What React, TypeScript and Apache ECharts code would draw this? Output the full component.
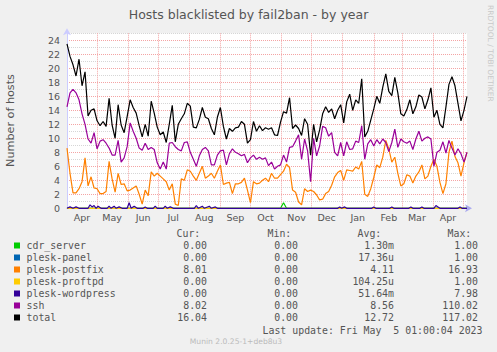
import React, { useEffect, useRef } from 'react';
import * as echarts from 'echarts';

// ---- data ----
const START_YEAR = 2022;
const START_MONTH = 3; // April (0-based)
const DAY_COUNT = 400;
const STEP_DAYS = 3;
const MONTH_LABELS = ['Jan', 'Feb', 'Mar', 'Apr', 'May', 'Jun', 'Jul', 'Aug', 'Sep', 'Oct', 'Nov', 'Dec'];

// one value every STEP_DAYS days, starting 2022-04-01
const TOTAL = [
  23.5, 21.7, 20.5, 18.9, 21.3, 17.5, 19.5, 13.2, 14, 14.2,
  12.5, 11.8, 12.4, 11.7, 15.7, 11.9, 10, 14.8, 11.9, 10.8,
  13.1, 15.5, 14.4, 13.6, 11.8, 10.2, 12, 10.3, 15.3, 13.6,
  11.6, 10.5, 10.9, 9.4, 12, 14.7, 9.5, 12, 12.8, 13.5,
  15, 14.6, 11.6, 11.5, 12.7, 14.4, 13, 12.8, 11.4, 10.5,
  13, 14.4, 11.7, 9.9, 11.4, 11, 11.5, 11.6, 12.4, 12,
  9.3, 9.8, 12.4, 11, 11.8, 11.1, 11.5, 11.3, 11.5, 10.5,
  10.4, 12.3, 13.8, 13.6, 15.8, 11.4, 11.9, 11.4, 10.4, 12.8,
  12, 7.6, 12, 9.5, 11.2, 13.5, 14.5, 13.7, 14.2, 12.8,
  14, 14.8, 12.2, 15.2, 16.3, 14, 15.5, 15, 18.5, 10.2,
  11, 12.6, 14.2, 16, 15, 17.3, 19.2, 16.7, 16.1, 18.7,
  16.5, 13.5, 13.2, 14.1, 15.5, 13.5, 14.5, 16.2, 15.9, 14.2,
  15.5, 17.2, 13, 14, 12, 11.5, 14.5, 17.7, 18.8, 17.5,
  15, 12.5, 14, 16,
];

const SSH = [
  14.5, 16.5, 17, 16.5, 15.5, 13.5, 12, 9.9, 9.3, 10.8,
  8.5, 9.6, 9.8, 9.3, 8.6, 7.6, 7.6, 9.7, 6.6, 7.2,
  8.8, 12.2, 11, 10, 8.6, 8.3, 9.3, 8.4, 8.7, 8.4,
  6.5, 5.6, 6.6, 5.6, 9.3, 9.4, 8.8, 8.4, 8.2, 9.4,
  9.5, 8, 7, 6, 7.5, 8.4, 8.7, 8.2, 6.2, 6.2,
  7.6, 8.2, 8.3, 6.2, 7.8, 8.5, 8, 7.8, 7.5, 7.7,
  6.5, 7.2, 7.6, 7, 7.3, 7, 7.2, 6.1, 6.6, 5.6,
  6, 6.2, 7.6, 6.6, 8.7, 8.8, 9.6, 10.5, 7, 9.9,
  8.2, 3.8, 10, 7.5, 8.9, 11.7, 11.5, 10.3, 10.8, 8,
  7.5, 9.4, 7.5, 9.5, 8.4, 8.5, 9.6, 9.4, 11.8, 7,
  9.2, 9.8, 8.9, 9.8, 9.2, 9.9, 9.4, 8.1, 9.4, 11.3,
  8.7, 9.9, 9.5, 9.3, 9.6, 8.4, 9.9, 11, 9.6, 10,
  10.2, 9.9, 6, 8, 8.3, 9.5, 7.9, 9.7, 8.6, 7.6,
  8.5, 7.8, 6.6, 8,
];

const POSTFIX = [
  8.6, 5, 2.2, 2.2, 2.8, 3.8, 7.2, 3.2, 4.5, 2.9,
  2.8, 2.1, 2.1, 2.4, 6.7, 4.2, 2.3, 5, 3.4, 3.5,
  2.5, 2.6, 2.9, 3.2, 2, 0.6, 2.6, 1.8, 5.2, 4.6,
  5, 4.6, 4.2, 3.8, 2.6, 3.5, 0.6, 0.4, 4.2, 4,
  5.5, 5.3, 4.6, 4, 5, 6, 4.3, 4.6, 5, 4.3,
  5.3, 6.2, 3.4, 3.6, 3.7, 2.1, 3.5, 3.5, 3.7, 4.3,
  2.6, 0.8, 3.8, 3.5, 3.6, 4, 4.3, 3.8, 5, 4.3,
  4.3, 4.8, 5.3, 6.3, 5.8, 2.6, 2.3, 0.9, 0.5, 2.8,
  2.4, 2.6, 2.4, 1.9, 1.2, 1.3, 2.1, 2.4, 3.3, 4.5,
  5.1, 5.4, 4, 5.5, 5.4, 5.3, 5.9, 5.6, 6.7, 2,
  1.7, 2.8, 4.4, 6.2, 5.8, 7.3, 9.7, 8.5, 6.6, 7.3,
  5, 3.2, 3.5, 4.8, 4.6, 3.6, 4.6, 5.2, 6.2, 4.2,
  4.6, 6, 7, 6, 3.7, 2.1, 3.5, 8, 9.6, 7.4,
  6.5, 4.6, 6.5, 8,
];

// [day offset, value]
const WORDPRESS_POINTS = [
  [0, 0], [3, 0.2], [6, 0], [9, 0.2], [12, 0], [21, 0], [23, 0.5], [25, 0.2], [27, 0.4], [29, 0],
  [31, 0.3], [34, 0], [40, 0], [42, 0.3], [44, 0], [47, 0.3], [49, 0], [52, 0.2], [55, 0], [60, 0],
  [62, 0.8], [64, 0], [67, 0.3], [70, 0], [76, 0], [78, 0.2], [80, 0], [86, 0], [88, 0.3], [90, 0],
  [96, 0], [98, 0.3], [100, 0], [103, 0.2], [106, 0], [112, 0], [127, 0], [129, 0.4], [131, 0],
  [135, 0.3], [137, 0], [142, 0.3], [144, 0], [148, 0.2], [150, 0], [155, 0], [270, 0], [272, 0.2],
  [274, 0], [277, 0.2], [279, 0], [304, 0], [306, 0.2], [308, 0], [322, 0], [324, 0.2], [326, 0],
  [341, 0], [343, 0.2], [345, 0], [352, 0], [354, 0.2], [356, 0], [366, 0], [368, 0.4], [370, 0.2],
  [372, 0], [390, 0], [392, 0.2], [394, 0], [399, 0],
];
const CDR_POINTS = [[0, 0], [213, 0], [216, 0.8], [219, 0], [399, 0]];
const PANEL_POINTS = [[0, 0], [399, 0]];
const PROFTPD_POINTS = [[0, 0], [399, 0]];

const NAMES = ['cdr_server', 'plesk-panel', 'plesk-postfix', 'plesk-proftpd', 'plesk-wordpress', 'ssh', 'total'];
const COLORS = ['#00cc00', '#0066b3', '#ff8000', '#ffcc00', '#330099', '#990099', '#000000'];
const CUR = ['0.00', '0.00', '8.01', '0.00', '0.00', '8.02', '16.04'];
const MIN = ['0.00', '0.00', '0.00', '0.00', '0.00', '0.00', '0.00'];
const AVG = ['1.30m', '17.36u', '4.11', '104.25u', '51.64m', '8.56', '12.72'];
const MAX = ['1.00', '1.00', '16.93', '1.00', '7.98', '110.02', '117.02'];

const TITLE = 'Hosts blacklisted by fail2ban - by year';
const Y_NAME = 'Number of hosts';
const LAST_UPDATE = 'Last update: Fri May  5 01:00:04 2023';
const VERSION = 'Munin 2.0.25-1+deb8u3';
const WATERMARK = 'RRDTOOL / TOBI OETIKER';

// ---- helpers ----
const dayDate = (i: number) => new Date(Date.UTC(START_YEAR, START_MONTH, 1 + i));
const CATEGORIES = Array.from({ length: DAY_COUNT }, (_, i) => dayDate(i).toISOString().slice(0, 10));
const stepped = (vals: number[]) => vals.map((v, i) => [CATEGORIES[i * STEP_DAYS], v]);
const sparse = (pts: number[][]) => pts.map(([d, v]) => [CATEGORIES[d], v]);

const SERIES_DATA = [
  sparse(CDR_POINTS),
  sparse(PANEL_POINTS),
  stepped(POSTFIX),
  sparse(PROFTPD_POINTS),
  sparse(WORDPRESS_POINTS),
  stepped(SSH),
  stepped(TOTAL),
];

const MONO = '"DejaVu Sans Mono", monospace';
const SANS = '"DejaVu Sans", sans-serif';
const TXT = '#555555';

function txt(text: string, x: number, y: number, opts: any = {}) {
  const align = opts.align || 'left';
  return {
    type: 'text',
    x,
    y,
    rotation: opts.rotation || 0,
    silent: true,
    style: {
      text,
      fill: opts.fill || TXT,
      fontSize: opts.fontSize || 9.9,
      fontFamily: opts.fontFamily || MONO,
      align,
      textAlign: align,
      verticalAlign: 'middle',
      textVerticalAlign: 'middle',
    },
  };
}

export default function App() {
  const ref = useRef<HTMLDivElement>(null);
  useEffect(() => {
    if (!ref.current) return;
    const chart = echarts.init(ref.current, undefined, { renderer: 'svg' });

    const graphics: any[] = [];
    graphics.push(txt(TITLE, 248.5, 14, { align: 'center', fontSize: 12.5, fontFamily: SANS }));
    graphics.push(txt(Y_NAME, 10, 120.5, { align: 'center', fontSize: 11.2, fontFamily: SANS, rotation: Math.PI / 2 }));
    graphics.push(txt(WATERMARK, 490, 5, { fontSize: 7.5, fontFamily: SANS, fill: '#c8c8c8', rotation: -Math.PI / 2 }));

    const headY = 233.5;
    graphics.push(txt('Cur:', 176.5, headY));
    graphics.push(txt('Min:', 267.5, headY));
    graphics.push(txt('Avg:', 357.5, headY));
    graphics.push(txt('Max:', 447.5, headY));
    NAMES.forEach((name, i) => {
      const y = headY + 12 * (i + 1);
      graphics.push({
        type: 'rect',
        silent: true,
        shape: { x: 14, y: y - 3, width: 6, height: 6 },
        style: { fill: COLORS[i] },
      });
      graphics.push(txt(name, 26.5, y));
      graphics.push(txt(CUR[i], 207, y, { align: 'right' }));
      graphics.push(txt(MIN[i], 298, y, { align: 'right' }));
      graphics.push(txt(AVG[i], 394, y, { align: 'right' }));
      graphics.push(txt(MAX[i], 478, y, { align: 'right' }));
    });
    graphics.push(txt(LAST_UPDATE, 482.5, 330.5, { align: 'right' }));
    graphics.push(txt(VERSION, 236, 341.5, { align: 'center', fontSize: 7.6, fontFamily: SANS, fill: '#bbbbbb' }));

    chart.setOption({
      animation: false,
      backgroundColor: '#f0f0f0',
      grid: {
        left: 67,
        right: 30,
        top: 33.3,
        bottom: 143.7,
        show: true,
        backgroundColor: '#ffffff',
        borderWidth: 0,
      },
      xAxis: {
        type: 'category',
        data: CATEGORIES,
        boundaryGap: false,
        axisLine: {
          show: true,
          lineStyle: { color: '#aaaaee', width: 1 },
          symbol: ['none', 'arrow'],
          symbolSize: [6, 7],
          symbolOffset: [0, 5],
        },
        axisTick: { show: false },
        axisLabel: {
          interval: (_i: number, v: string) => v.slice(8, 10) === '16',
          formatter: (v: string) => MONTH_LABELS[parseInt(v.slice(5, 7), 10) - 1],
          color: TXT,
          fontFamily: SANS,
          fontSize: 9.5,
          margin: 4,
        },
        splitLine: {
          show: true,
          interval: (i: number, v: string) => i > 0 && v.slice(8, 10) === '01',
          lineStyle: { color: '#f4a4a4', type: [1, 1], width: 1 },
        },
      },
      yAxis: {
        type: 'value',
        min: 0,
        max: 25,
        interval: 1,
        axisLine: {
          show: true,
          lineStyle: { color: '#ccccff', width: 1 },
          symbol: ['none', 'arrow'],
          symbolSize: [6, 7],
          symbolOffset: [0, 5],
        },
        axisTick: { show: false },
        axisLabel: {
          formatter: (v: number) => (v % 2 === 0 ? String(v) : ''),
          color: TXT,
          fontFamily: SANS,
          fontSize: 9.5,
          margin: 7,
        },
        splitLine: {
          show: true,
          lineStyle: { color: ['#f4a4a4', '#d6d6d6'], type: [1, 1], width: 1 },
        },
      },
      graphic: graphics,
      series: NAMES.map((name, i) => ({
        name,
        type: 'line',
        data: SERIES_DATA[i],
        showSymbol: false,
        symbol: 'none',
        silent: true,
        lineStyle: { color: COLORS[i], width: 1.2 },
        itemStyle: { color: COLORS[i] },
      })),
    });
    return () => chart.dispose();
  }, []);
  return <div ref={ref} style={{ position: 'fixed', left: 0, top: 0, width: 497, height: 352 }} />;
}
